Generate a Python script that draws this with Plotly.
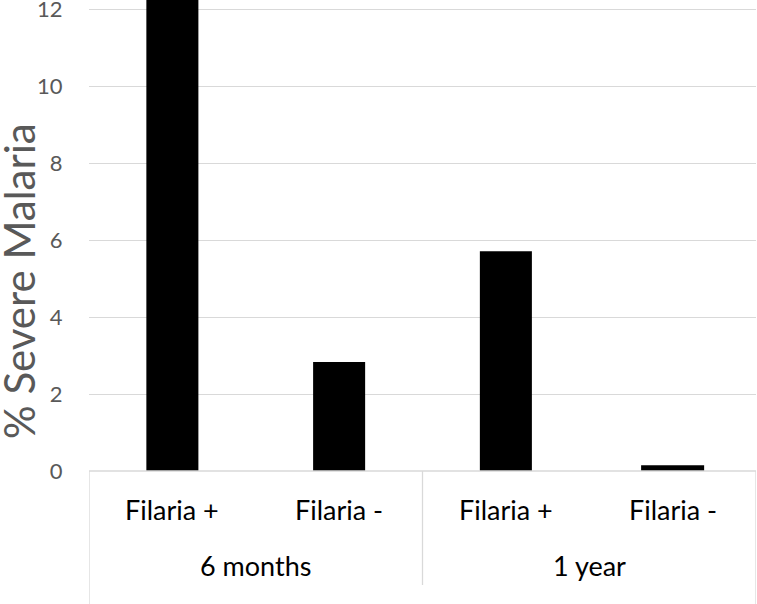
import plotly.graph_objects as go

# ---- data ----
groups = ["6 months", "6 months", "1 year", "1 year"]
subgroups = ["Filaria +", "Filaria -", "Filaria +", "Filaria -"]
severe_malaria_pct = [12.5, 2.83, 5.71, 0.15]
y_ticks = [0, 2, 4, 6, 8, 10, 12]

W, H = 757, 604
ML, MR, MT, MB = 89, 1, 0, 133
plot_h = H - MT - MB
plot_w = W - ML - MR

def py(pix):
    """pixel row -> paper y"""
    return (H - MB - pix) / plot_h

def px(pix):
    return (pix - ML) / plot_w

xs = list(range(len(severe_malaria_pct)))
bar_widths = [0.312, 0.312, 0.312, 0.378]

fig = go.Figure()
fig.add_trace(go.Bar(
    x=xs, y=severe_malaria_pct, width=bar_widths,
    marker=dict(color="black", line=dict(width=0)),
    showlegend=False, hoverinfo="y",
))

grid = "#d9d9d9"
fig.update_layout(
    width=W, height=H,
    margin=dict(l=ML, r=MR, t=MT, b=MB, pad=0, autoexpand=False),
    plot_bgcolor="white", paper_bgcolor="white",
    font=dict(family="Lato, Open Sans, sans-serif"),
    xaxis=dict(range=[-0.5, len(xs) - 0.5], showticklabels=False, showgrid=False,
               zeroline=False, showline=False, ticks="", automargin=False),
    yaxis=dict(range=[0, 12.24], tickvals=y_ticks, showgrid=True, gridcolor=grid,
               gridwidth=1.3, zeroline=False, showline=False, automargin=False,
               ticks="outside", ticklen=21, tickcolor="rgba(0,0,0,0)",
               ticklabeloverflow="allow",
               tickfont=dict(size=22, color="#595959", family="Lato, sans-serif")),
)

# axis box lines
line = dict(color=grid, width=1.3)
shapes = [
    dict(type="line", xref="x", yref="paper", x0=-0.5, x1=len(xs) - 0.5, y0=0, y1=0, line=line),
    dict(type="line", xref="x", yref="paper", x0=-0.5, x1=-0.5, y0=0, y1=py(H), line=line),
    dict(type="line", xref="x", yref="paper", x0=len(xs) - 0.5, x1=len(xs) - 0.5, y0=0, y1=py(H), line=line),
]
# group dividers
for i in range(1, len(groups)):
    if groups[i] != groups[i - 1]:
        shapes.append(dict(type="line", xref="x", yref="paper", x0=i - 0.5, x1=i - 0.5,
                           y0=0, y1=py(585), line=line))
fig.update_layout(shapes=shapes)

ann = []
for i, s in enumerate(subgroups):
    ann.append(dict(x=i, y=py(509), xref="x", yref="paper", text=s, showarrow=False,
                    xanchor="center", yanchor="middle",
                    font=dict(size=27, color="black", family="Lato, sans-serif")))
seen = []
for g in groups:
    if g not in seen:
        seen.append(g)
for g in seen:
    idx = [i for i, gg in enumerate(groups) if gg == g]
    ann.append(dict(x=sum(idx) / len(idx), y=py(565), xref="x", yref="paper", text=g,
                    showarrow=False, xanchor="center", yanchor="middle",
                    font=dict(size=27, color="black", family="Lato, sans-serif")))
ann.append(dict(x=px(19), y=py(281), xref="paper", yref="paper", text="% Severe Malaria",
                textangle=-90, showarrow=False, xanchor="center", yanchor="middle",
                font=dict(size=42, color="#595959", family="Lato, sans-serif")))
fig.update_layout(annotations=ann)

fig.write_html("out.html", config={"displayModeBar": False},
               post_script="document.body.style.margin='0';")
